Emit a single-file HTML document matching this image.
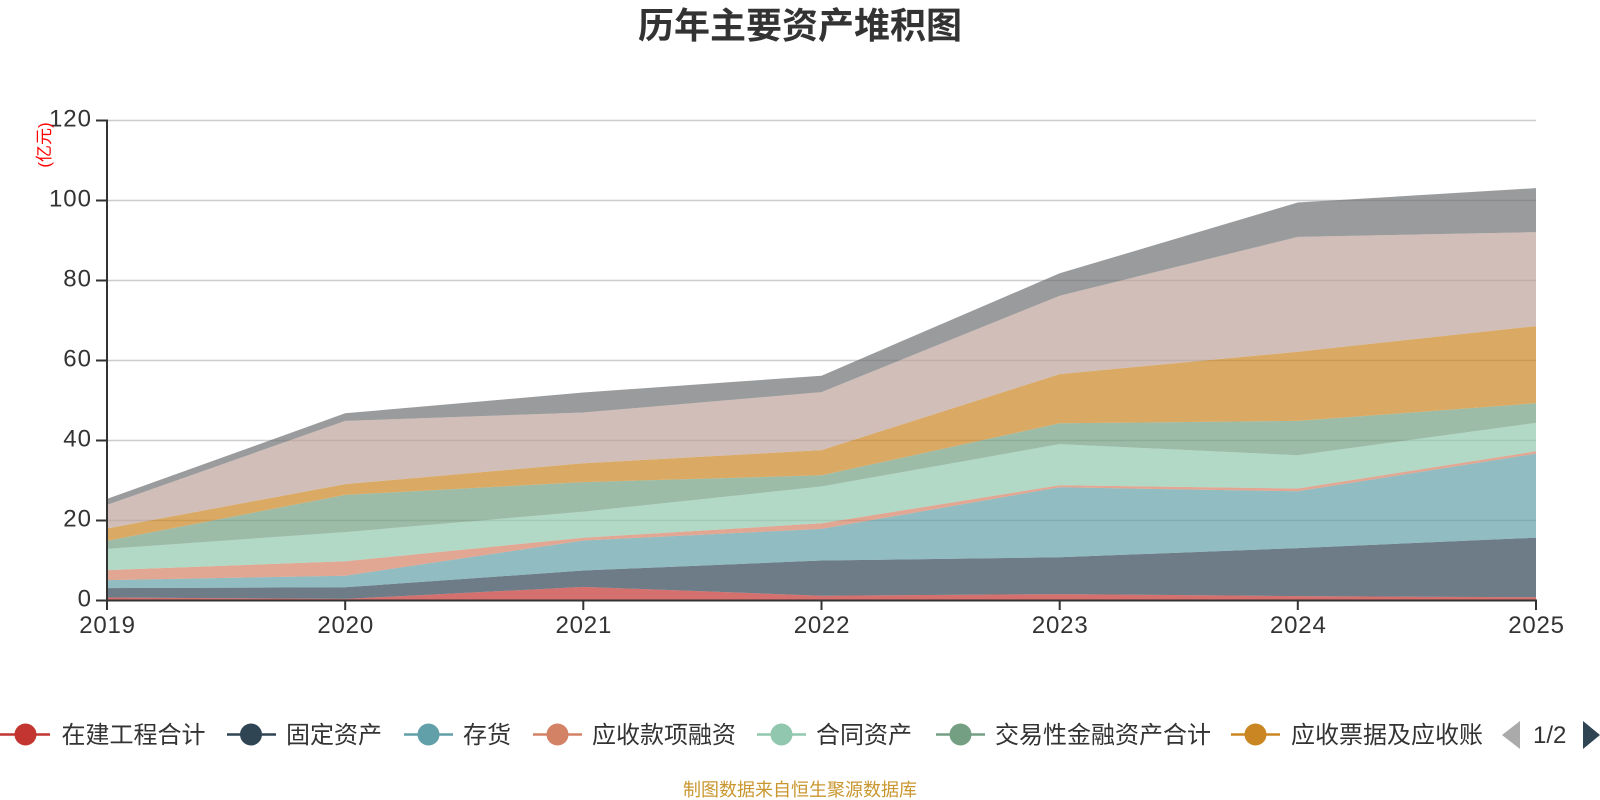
<!DOCTYPE html>
<html>
<head>
<meta charset="utf-8">
<style>
  html, body { margin: 0; padding: 0; background: #ffffff; }
  body { width: 1600px; height: 800px; overflow: hidden; }
  svg { display: block; }
  text { font-family: "Liberation Sans", "Noto Sans CJK SC", sans-serif; }
</style>
</head>
<body>
<svg width="1600" height="800" viewBox="0 0 1600 800" xmlns="http://www.w3.org/2000/svg">
  <rect width="1600" height="800" fill="#ffffff"/>

  <!-- Title -->
  <text x="800" y="38" text-anchor="middle" font-size="36" font-weight="bold" fill="#333333">历年主要资产堆积图</text>

  <!-- Grid lines -->
  <g stroke="#cccccc" stroke-width="1.5">
    <line x1="107" y1="120.5" x2="1536" y2="120.5"/>
    <line x1="107" y1="200.5" x2="1536" y2="200.5"/>
    <line x1="107" y1="280.5" x2="1536" y2="280.5"/>
    <line x1="107" y1="360.5" x2="1536" y2="360.5"/>
    <line x1="107" y1="440.5" x2="1536" y2="440.5"/>
    <line x1="107" y1="520.5" x2="1536" y2="520.5"/>
  </g>

  <!-- Stacked areas -->
  <g fill-opacity="0.7" stroke="none">
    <polygon fill="#c23531" points="107,597.5 345.2,598.9 583.3,586.9 821.5,595.7 1059.7,594.1 1297.8,596.1 1536,597.3 1536,600.5 107,600.5"/>
    <polygon fill="#2f4554" points="107,588.1 345.2,587.3 583.3,570.5 821.5,560.5 1059.7,557.3 1297.8,548.1 1536,537.7 1536,597.3 1297.8,596.1 1059.7,594.1 821.5,595.7 583.3,586.9 345.2,598.9 107,597.5"/>
    <polygon fill="#61a0a8" points="107,580.1 345.2,575.7 583.3,540.5 821.5,528.9 1059.7,487.3 1297.8,491.3 1536,453.7 1536,537.7 1297.8,548.1 1059.7,557.3 821.5,560.5 583.3,570.5 345.2,587.3 107,588.1"/>
    <polygon fill="#d48265" points="107,570.1 345.2,561.3 583.3,537.7 821.5,523.3 1059.7,485.3 1297.8,488.5 1536,451.3 1536,453.7 1297.8,491.3 1059.7,487.3 821.5,528.9 583.3,540.5 345.2,575.7 107,580.1"/>
    <polygon fill="#91c7ae" points="107,548.9 345.2,532.1 583.3,511.7 821.5,486.5 1059.7,444.1 1297.8,455.3 1536,422.9 1536,451.3 1297.8,488.5 1059.7,485.3 821.5,523.3 583.3,537.7 345.2,561.3 107,570.1"/>
    <polygon fill="#749f83" points="107,540.9 345.2,494.9 583.3,482.1 821.5,475.3 1059.7,423.3 1297.8,420.9 1536,403.3 1536,422.9 1297.8,455.3 1059.7,444.1 821.5,486.5 583.3,511.7 345.2,532.1 107,548.9"/>
    <polygon fill="#ca8622" points="107,528.5 345.2,484.1 583.3,463.3 821.5,450.1 1059.7,374.1 1297.8,351.7 1536,326.1 1536,403.3 1297.8,420.9 1059.7,423.3 821.5,475.3 583.3,482.1 345.2,494.9 107,540.9"/>
    <polygon fill="#bda29a" points="107,504.9 345.2,420.9 583.3,412.5 821.5,392.1 1059.7,295.7 1297.8,236.9 1536,232.1 1536,326.1 1297.8,351.7 1059.7,374.1 821.5,450.1 583.3,463.3 345.2,484.1 107,528.5"/>
    <polygon fill="#6e7074" points="107,498.9 345.2,413.3 583.3,392.5 821.5,375.7 1059.7,273.3 1297.8,202.5 1536,188.1 1536,232.1 1297.8,236.9 1059.7,295.7 821.5,392.1 583.3,412.5 345.2,420.9 107,504.9"/>
  </g>

  <!-- Axes -->
  <g stroke="#333333" stroke-width="2" fill="none">
    <line x1="107" y1="119.5" x2="107" y2="601"/>
    <line x1="106" y1="600.5" x2="1537" y2="600.5"/>
    <line x1="96" y1="120.5" x2="107" y2="120.5"/>
    <line x1="96" y1="200.5" x2="107" y2="200.5"/>
    <line x1="96" y1="280.5" x2="107" y2="280.5"/>
    <line x1="96" y1="360.5" x2="107" y2="360.5"/>
    <line x1="96" y1="440.5" x2="107" y2="440.5"/>
    <line x1="96" y1="520.5" x2="107" y2="520.5"/>
    <line x1="96" y1="600.5" x2="107" y2="600.5"/>
    <line x1="107" y1="600" x2="107" y2="610"/>
    <line x1="345.2" y1="600" x2="345.2" y2="610"/>
    <line x1="583.3" y1="600" x2="583.3" y2="610"/>
    <line x1="821.5" y1="600" x2="821.5" y2="610"/>
    <line x1="1059.7" y1="600" x2="1059.7" y2="610"/>
    <line x1="1297.8" y1="600" x2="1297.8" y2="610"/>
    <line x1="1536" y1="600" x2="1536" y2="610"/>
  </g>

  <!-- Y labels -->
  <g font-size="24" fill="#333333" text-anchor="end" letter-spacing="1">
    <text x="92" y="126.5">120</text>
    <text x="92" y="206.5">100</text>
    <text x="92" y="286.5">80</text>
    <text x="92" y="366.5">60</text>
    <text x="92" y="446.5">40</text>
    <text x="92" y="526.5">20</text>
    <text x="92" y="606.5">0</text>
  </g>

  <!-- Unit label -->
  <text x="0" y="0" font-size="17" fill="#ff0000" text-anchor="middle" transform="translate(50,145) rotate(-90)">(亿元)</text>

  <!-- X labels -->
  <g font-size="24" fill="#333333" text-anchor="middle" letter-spacing="0.8">
    <text x="107.5" y="633">2019</text>
    <text x="345.7" y="633">2020</text>
    <text x="583.8" y="633">2021</text>
    <text x="822" y="633">2022</text>
    <text x="1060.2" y="633">2023</text>
    <text x="1298.3" y="633">2024</text>
    <text x="1536.5" y="633">2025</text>
  </g>

  <!-- Legend -->
  <g font-size="24" fill="#333333">
    <line x1="0" y1="734.5" x2="50" y2="734.5" stroke="#c23531" stroke-width="2.5"/>
    <circle cx="25.5" cy="734.5" r="11" fill="#c23531"/>
    <text x="61.5" y="743">在建工程合计</text>

    <line x1="227" y1="734.5" x2="276" y2="734.5" stroke="#2f4554" stroke-width="2.5"/>
    <circle cx="251" cy="734.5" r="11" fill="#2f4554"/>
    <text x="286" y="743">固定资产</text>

    <line x1="404" y1="734.5" x2="453" y2="734.5" stroke="#61a0a8" stroke-width="2.5"/>
    <circle cx="428.5" cy="734.5" r="11" fill="#61a0a8"/>
    <text x="463" y="743">存货</text>

    <line x1="533" y1="734.5" x2="582" y2="734.5" stroke="#d48265" stroke-width="2.5"/>
    <circle cx="557.5" cy="734.5" r="11" fill="#d48265"/>
    <text x="592" y="743">应收款项融资</text>

    <line x1="757" y1="734.5" x2="806" y2="734.5" stroke="#91c7ae" stroke-width="2.5"/>
    <circle cx="781.5" cy="734.5" r="11" fill="#91c7ae"/>
    <text x="816" y="743">合同资产</text>

    <line x1="936" y1="734.5" x2="985" y2="734.5" stroke="#749f83" stroke-width="2.5"/>
    <circle cx="960.5" cy="734.5" r="11" fill="#749f83"/>
    <text x="995" y="743">交易性金融资产合计</text>

    <line x1="1231" y1="734.5" x2="1280" y2="734.5" stroke="#ca8622" stroke-width="2.5"/>
    <circle cx="1255.5" cy="734.5" r="11" fill="#ca8622"/>
    <text x="1291" y="743">应收票据及应收账</text>

    <polygon points="1520,721 1520,749 1502,735" fill="#aaaaaa"/>
    <text x="1533" y="743">1/2</text>
    <polygon points="1583,721 1583,749 1600,735" fill="#2f4554"/>
  </g>

  <!-- Footer -->
  <text x="800" y="796" text-anchor="middle" font-size="18" fill="#c9962f">制图数据来自恒生聚源数据库</text>
</svg>
</body>
</html>
